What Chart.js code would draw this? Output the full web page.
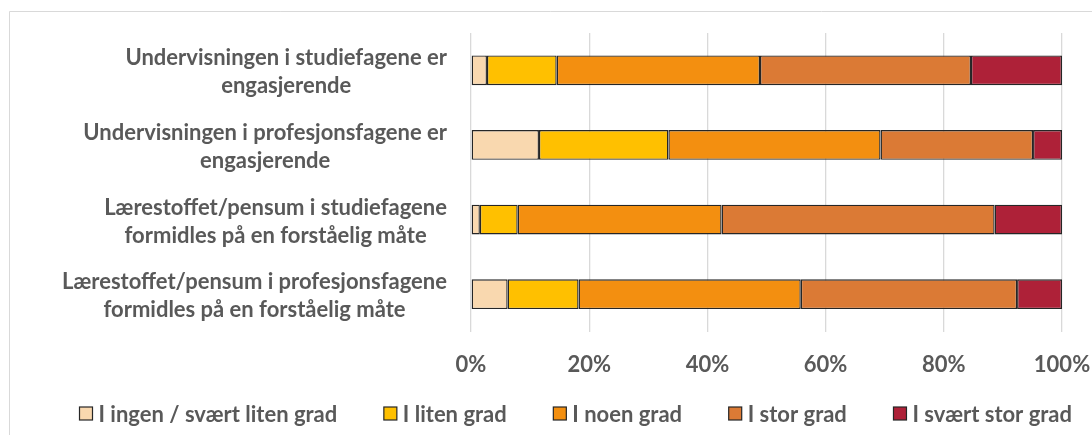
<!DOCTYPE html>
<html>
<head>
<meta charset="utf-8">
<script src="https://cdn.jsdelivr.net/npm/chart.js@4/dist/chart.umd.min.js"></script>
<style>
  html, body { margin: 0; padding: 0; background: #fff; }
  #wrap { width: 1092px; height: 435px; position: relative; }
</style>
</head>
<body>
<div id="wrap"><canvas id="chart"></canvas></div>
<script>
// categories (two lines each, as in the source chart)
const categories = [
  ['Undervisningen i studiefagene er', 'engasjerende'],
  ['Undervisningen i profesjonsfagene er', 'engasjerende'],
  ['Lærestoffet/pensum i studiefagene', 'formidles på en forståelig måte'],
  ['Lærestoffet/pensum i profesjonsfagene', 'formidles på en forståelig måte']
];

const seriesNames = ['I ingen / svært liten grad', 'I liten grad', 'I noen grad', 'I stor grad', 'I svært stor grad'];

// percent per category
const ingenGrad = [2.7, 11.5, 1.5, 6.2];
const litenGrad = [11.8, 21.9, 6.4, 12.0];
const noenGrad = [34.4, 35.9, 34.5, 37.6];
const storGrad = [35.7, 25.8, 46.2, 36.6];
const sværtStorGrad = [15.4, 4.9, 11.4, 7.6];

const tickValues = [0, 20, 40, 60, 80, 100];

const colors = ['#F9D8AF', '#FFC000', '#F38F10', '#DB7A35', '#AE2138'];
const textColor = '#595959';
const fontFamily = 'Lato, "Open Sans", sans-serif';
const fontSize = 22;

const seriesData = [ingenGrad, litenGrad, noenGrad, storGrad, sværtStorGrad];

// grey frame of the chart box
const framePlugin = {
  id: 'frame',
  beforeDraw(chart) {
    const ctx = chart.ctx;
    ctx.save();
    ctx.fillStyle = '#fff';
    ctx.fillRect(0, 0, chart.width, chart.height);
    ctx.strokeStyle = '#D9D9D9';
    ctx.lineWidth = 1;
    ctx.beginPath();
    ctx.moveTo(9.5, chart.height);
    ctx.lineTo(9.5, 11.5);
    ctx.lineTo(chart.width, 11.5);
    ctx.stroke();
    ctx.restore();
  }
};

// axis texts and legend row
const textPlugin = {
  id: 'axisText',
  afterDraw(chart) {
    const ctx = chart.ctx;
    const yScale = chart.scales.y;
    const xScale = chart.scales.x;
    const right = chart.chartArea.left - 24;
    ctx.save();
    ctx.font = 'bold ' + fontSize + 'px ' + fontFamily;
    ctx.fillStyle = textColor;
    ctx.textAlign = 'center';
    ctx.textBaseline = 'middle';
    const lineH = 28;
    categories.forEach((lines, i) => {
      const y = yScale.getPixelForValue(i);
      const widest = Math.max(...lines.map(l => ctx.measureText(l).width));
      const cx = right - widest / 2;
      lines.forEach((l, j) => {
        ctx.fillText(l, cx, y + 2 + (j - (lines.length - 1) / 2) * lineH);
      });
    });
    const ty = chart.chartArea.bottom + 33;
    tickValues.forEach(v => {
      ctx.fillText(v + '%', xScale.getPixelForValue(v), ty);
    });

    // legend
    const box = 13, gap = 6;
    const startX = 79.5, endX = 1072, ly = 413.5;
    const widths = seriesNames.map(n => ctx.measureText(n).width);
    const used = widths.reduce((s, w) => s + box + gap + w, 0);
    const pad = (endX - startX - used) / (seriesNames.length - 1);
    let x = startX;
    ctx.textAlign = 'left';
    seriesNames.forEach((n, i) => {
      ctx.fillStyle = colors[i];
      ctx.fillRect(x, ly - box / 2, box, box);
      ctx.strokeStyle = '#262626';
      ctx.lineWidth = 1.2;
      ctx.strokeRect(x, ly - box / 2, box, box);
      ctx.fillStyle = textColor;
      ctx.fillText(n, x + box + gap, ly + 1);
      x += box + gap + widths[i] + pad;
    });
    ctx.restore();
  }
};

const chart = new Chart(document.getElementById('chart').getContext('2d'), {
  type: 'bar',
  data: {
    labels: categories,
    datasets: seriesNames.map((name, i) => ({
      label: name,
      data: seriesData[i],
      backgroundColor: colors[i],
      borderColor: '#262626',
      borderWidth: 1.4,
      borderSkipped: false,
      barPercentage: 0.4,
      categoryPercentage: 1
    }))
  },
  options: {
    indexAxis: 'y',
    responsive: true,
    maintainAspectRatio: false,
    animation: false,
    layout: { padding: { top: 33, right: 30, left: 0, bottom: 70.5 } },
    scales: {
      x: {
        stacked: true,
        min: 0,
        max: 100,
        afterBuildTicks(scale) {
          scale.ticks = tickValues.map(v => ({ value: v }));
        },
        afterFit(scale) { scale.height = 33; },
        grid: { color: '#D9D9D9', lineWidth: 1.3, drawTicks: false },
        border: { display: false },
        ticks: { display: false }
      },
      y: {
        stacked: true,
        afterFit(scale) { scale.width = 471; },
        grid: { display: false },
        border: { display: false },
        ticks: { display: false }
      }
    },
    plugins: {
      legend: { display: false },
      tooltip: { enabled: false }
    }
  },
  plugins: [framePlugin, textPlugin]
});
</script>
</body>
</html>
